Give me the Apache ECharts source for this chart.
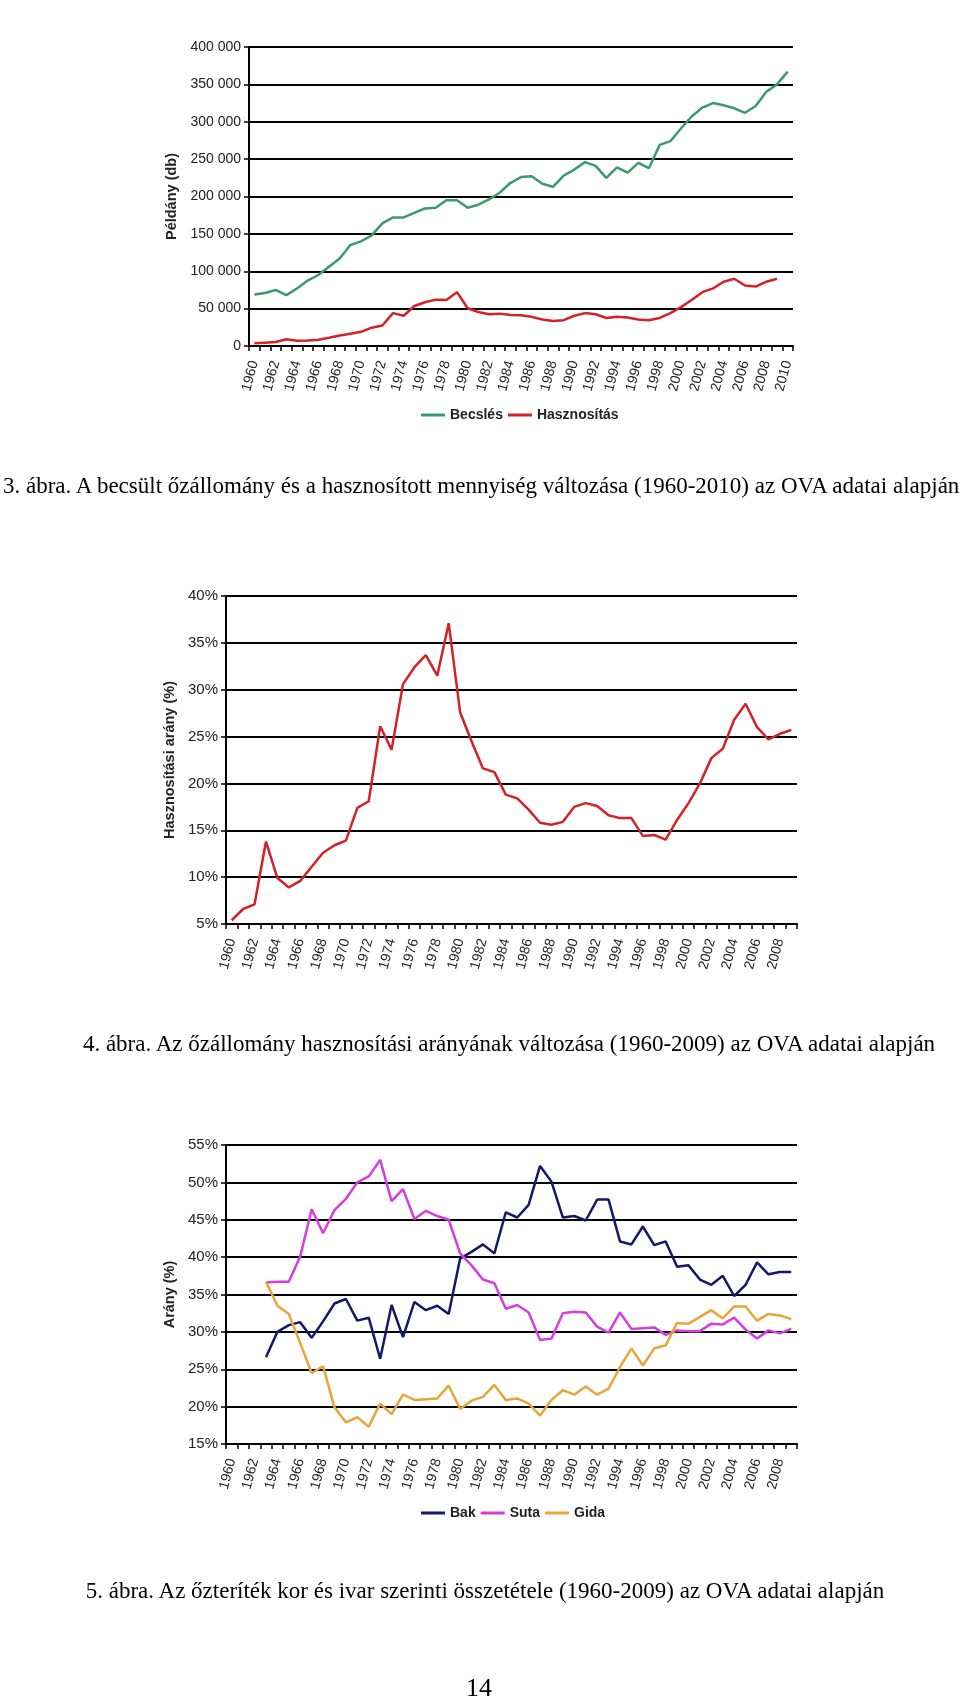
<!DOCTYPE html>
<html>
<head>
<meta charset="utf-8">
<script src="https://cdn.jsdelivr.net/npm/echarts@6/dist/echarts.min.js"></script>
<style>
  body { margin: 0; background: #fff; }
  #page { position: relative; width: 960px; height: 1702px; }
  #chart { position: absolute; left: 0; top: 0; width: 960px; height: 1702px; }
  .cap { position: absolute; font-family: "Liberation Serif", serif; font-size: 23px; color: #000; white-space: nowrap; }
</style>
</head>
<body>
<div id="page">
  <div id="chart"></div>
  <div class="cap" id="cap3" style="left:3px; top:473px;">3. ábra. A becsült őzállomány és a hasznosított mennyiség változása (1960-2010) az OVA adatai alapján</div>
  <div class="cap" id="cap4" style="left:0; width:1018px; text-align:center; top:1031px;">4. ábra. Az őzállomány hasznosítási arányának változása (1960-2009) az OVA adatai alapján</div>
  <div class="cap" id="cap5" style="left:0; width:970px; text-align:center; top:1578px;">5. ábra. Az őzteríték kor és ivar szerinti összetétele (1960-2009) az OVA adatai alapján</div>
  <div class="cap" style="left:0; width:958px; text-align:center; top:1673px; font-size:26px;">14</div>
</div>
<script>
// evek
const years = ['1960','1961','1962','1963','1964','1965','1966','1967','1968','1969',
  '1970','1971','1972','1973','1974','1975','1976','1977','1978','1979',
  '1980','1981','1982','1983','1984','1985','1986','1987','1988','1989',
  '1990','1991','1992','1993','1994','1995','1996','1997','1998','1999',
  '2000','2001','2002','2003','2004','2005','2006','2007','2008','2009','2010'];
const years09 = years.slice(0, 50);
const sexYears = years.slice(3, 50); // 1963-2009

// 3. abra
const becsles = [69000, 71000, 75000, 68000, 77000, 87500, 95000, 106000, 117000, 135000,
  140000, 148000, 164000, 172000, 172000, 178000, 184000, 185000, 195000, 195000,
  185000, 189000, 196000, 205000, 218000, 226000, 227000, 217000, 213000, 228000,
  236000, 246000, 241000, 225000, 239000, 232000, 245000, 238000, 269000, 274000,
  291000, 307000, 319000, 325000, 322000, 318000, 312000, 321000, 340000, 350000, 367000];
const hasznositas = [3600, 4500, 5300, 9000, 7000, 7200, 8500, 11000, 14000, 16500,
  19000, 24500, 27500, 44000, 40500, 53500, 58500, 62000, 61500, 72000,
  50500, 45500, 42500, 43300, 41500, 41000, 39000, 35500, 33500, 34500,
  40500, 44000, 42500, 37500, 39000, 38000, 35500, 34500, 37500, 44000,
  52000, 61500, 72000, 77000, 86000, 90000, 81000, 79500, 86000, 90000];

// 4. abra
const arany = [5.4, 6.6, 7.1, 13.8, 9.9, 8.9, 9.6, 11.1, 12.6, 13.4,
  13.9, 17.4, 18.1, 26.1, 23.6, 30.6, 32.4, 33.7, 31.5, 37.1,
  27.6, 24.5, 21.6, 21.2, 18.8, 18.4, 17.2, 15.8, 15.6, 15.9,
  17.5, 17.9, 17.6, 16.6, 16.3, 16.3, 14.4, 14.5, 14.0, 16.1,
  17.9, 20.0, 22.7, 23.7, 26.8, 28.5, 26.0, 24.7, 25.3, 25.7];

// 5. abra (1963-2009)
const bak = [26.6, 30.0, 30.9, 31.3, 29.2, 31.4, 33.8, 34.4, 31.5, 31.9,
  26.4, 33.6, 29.3, 34.0, 32.9, 33.5, 32.4, 39.8, 40.7, 41.7,
  40.5, 46.0, 45.3, 47.0, 52.2, 50.1, 45.3, 45.5, 44.9, 47.7,
  47.7, 42.1, 41.7, 44.1, 41.6, 42.1, 38.7, 38.9, 37.0, 36.3,
  37.5, 34.8, 36.3, 39.3, 37.7, 38.0, 38.0];
const suta = [36.6, 36.7, 36.7, 40.1, 46.4, 43.2, 46.3, 47.8, 50.0, 50.8,
  53.0, 47.5, 49.1, 45.1, 46.2, 45.5, 45.0, 40.5, 38.9, 37.0,
  36.5, 33.1, 33.6, 32.6, 28.9, 29.1, 32.5, 32.7, 32.6, 30.7,
  29.9, 32.6, 30.4, 30.5, 30.6, 29.6, 30.2, 30.1, 30.1, 31.1,
  31.0, 31.9, 30.3, 29.1, 30.2, 29.8, 30.4];
const gida = [36.7, 33.5, 32.4, 28.5, 24.5, 25.4, 19.9, 17.9, 18.6, 17.3,
  20.4, 19.0, 21.6, 20.9, 21.0, 21.1, 22.8, 19.7, 20.8, 21.3,
  22.9, 20.9, 21.1, 20.4, 18.8, 20.9, 22.2, 21.6, 22.7, 21.6,
  22.4, 25.3, 27.8, 25.5, 27.8, 28.2, 31.2, 31.1, 32.0, 32.9,
  31.8, 33.4, 33.4, 31.5, 32.4, 32.2, 31.7];

const FONT = 'Liberation Sans';
const labelColor = '#222';

function xAxisFor(idx, data) {
  return {
    type: 'category', gridIndex: idx, data: data, boundaryGap: true,
    axisLine: { lineStyle: { color: '#000', width: 2 } },
    axisTick: { show: true, interval: 0, length: 5, lineStyle: { color: '#000', width: 1.5 } },
    axisLabel: { interval: 1, rotate: 75, margin: 15, fontFamily: FONT, fontSize: 14, color: labelColor }
  };
}
function yAxisFor(idx, min, max, step, name, gap, fs, fmt) {
  return {
    type: 'value', gridIndex: idx, min: min, max: max, interval: step,
    name: name, nameLocation: 'middle', nameGap: gap,
    nameTextStyle: { fontFamily: FONT, fontSize: 14.5, fontWeight: 'bold', color: labelColor },
    axisLine: { show: true, lineStyle: { color: '#000', width: 2 } },
    axisTick: { show: true, length: 5, lineStyle: { color: '#000', width: 1.5 } },
    axisLabel: { fontFamily: FONT, fontSize: fs, color: labelColor, margin: 8, formatter: fmt },
    splitLine: { lineStyle: { color: '#000', width: 2 } }
  };
}
function line(name, xi, data, color) {
  return {
    name: name, type: 'line', xAxisIndex: xi, yAxisIndex: xi, data: data,
    showSymbol: false, symbol: 'none', smooth: false,
    lineStyle: { color: color, width: 2.5 }, itemStyle: { color: color }
  };
}

const spaceFmt = v => String(v).replace(/\B(?=(\d{3})+(?!\d))/g, ' ');
const pctFmt = v => v + '%';

const legendText = { fontFamily: FONT, fontSize: 14, fontWeight: 'bold', color: labelColor };

const chart = echarts.init(document.getElementById('chart'));
chart.setOption({
  animation: false,
  backgroundColor: '#fff',
  textStyle: { fontFamily: FONT },
  grid: [
    { left: 249, right: 167, top: 47, height: 299 },
    { left: 226, right: 163, top: 596, height: 328 },
    { left: 226, right: 163, top: 1145, height: 299 }
  ],
  xAxis: [xAxisFor(0, years), xAxisFor(1, years09), xAxisFor(2, years09)],
  yAxis: [
    yAxisFor(0, 0, 400000, 50000, 'Példány (db)', 67, 14, spaceFmt),
    yAxisFor(1, 5, 40, 5, 'Hasznosítási arány (%)', 44, 15, pctFmt),
    yAxisFor(2, 15, 55, 5, 'Arány (%)', 44, 15, pctFmt)
  ],
  legend: [
    { data: ['Becslés', 'Hasznosítás'], left: 421, top: 408, padding: 0,
      icon: 'rect', itemWidth: 24, itemHeight: 3, itemGap: 5,
      textStyle: legendText, selectedMode: false },
    { data: ['Bak', 'Suta', 'Gida'], left: 421, top: 1506, padding: 0,
      icon: 'rect', itemWidth: 24, itemHeight: 3, itemGap: 5,
      textStyle: legendText, selectedMode: false }
  ],
  series: [
    line('Becslés', 0, becsles, '#3a9a6c'),
    line('Hasznosítás', 0, hasznositas, '#d42127'),
    line('Arány', 1, arany, '#d42127'),
    line('Bak', 2, sexYears.map((y, i) => [y, bak[i]]), '#15176b'),
    line('Suta', 2, sexYears.map((y, i) => [y, suta[i]]), '#d43ee0'),
    line('Gida', 2, sexYears.map((y, i) => [y, gida[i]]), '#e9a43a')
  ]
});
</script>
</body>
</html>
